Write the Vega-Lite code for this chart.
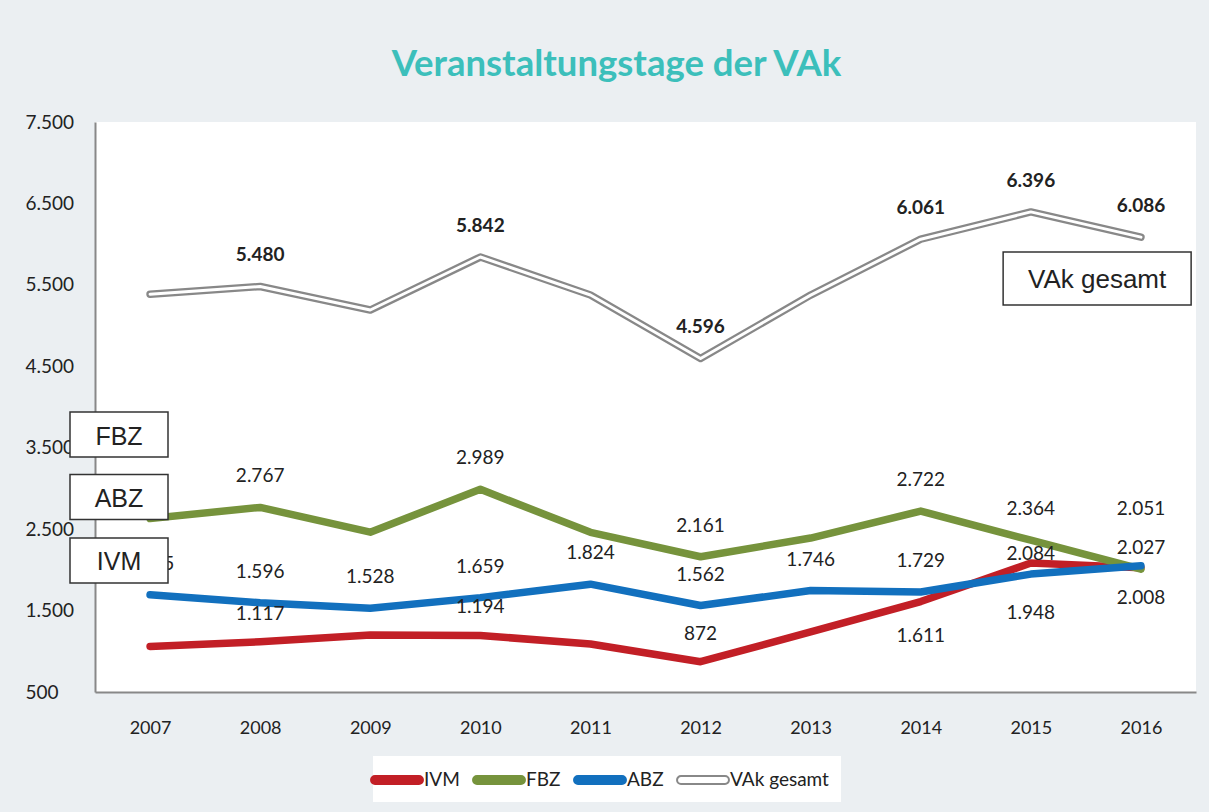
{
  "$schema": "https://vega.github.io/schema/vega-lite/v6.json",
  "width": 1101,
  "height": 570,
  "autosize": {"type": "none"},
  "padding": {"left": 95, "top": 122, "right": 13, "bottom": 120},
  "background": "#ebeff2",
  "title": {"text": "Veranstaltungstage der VAk", "font": "Lato", "fontSize": 36.5, "fontWeight": "bold", "color": "#3cbfbb", "anchor": "middle", "baseline": "alphabetic", "offset": 1, "dx": -29},
  "config": {
    "view": {"fill": "white", "stroke": null},
    "locale": {"number": {"decimal": ",", "thousands": ".", "grouping": [3], "currency": ["", " €"]}}
  },
  "datasets": {
    "days": [
      {"series": "IVM", "year": 2007, "value": 1060},
      {"series": "IVM", "year": 2008, "value": 1117},
      {"series": "IVM", "year": 2009, "value": 1200},
      {"series": "IVM", "year": 2010, "value": 1194},
      {"series": "IVM", "year": 2011, "value": 1090},
      {"series": "IVM", "year": 2012, "value": 872},
      {"series": "IVM", "year": 2013, "value": 1237},
      {"series": "IVM", "year": 2014, "value": 1611},
      {"series": "IVM", "year": 2015, "value": 2084},
      {"series": "IVM", "year": 2016, "value": 2027},
      {"series": "FBZ", "year": 2007, "value": 2630},
      {"series": "FBZ", "year": 2008, "value": 2767},
      {"series": "FBZ", "year": 2009, "value": 2463},
      {"series": "FBZ", "year": 2010, "value": 2989},
      {"series": "FBZ", "year": 2011, "value": 2461},
      {"series": "FBZ", "year": 2012, "value": 2161},
      {"series": "FBZ", "year": 2013, "value": 2391},
      {"series": "FBZ", "year": 2014, "value": 2722},
      {"series": "FBZ", "year": 2015, "value": 2364},
      {"series": "FBZ", "year": 2016, "value": 2008},
      {"series": "ABZ", "year": 2007, "value": 1695},
      {"series": "ABZ", "year": 2008, "value": 1596},
      {"series": "ABZ", "year": 2009, "value": 1528},
      {"series": "ABZ", "year": 2010, "value": 1659},
      {"series": "ABZ", "year": 2011, "value": 1824},
      {"series": "ABZ", "year": 2012, "value": 1562},
      {"series": "ABZ", "year": 2013, "value": 1746},
      {"series": "ABZ", "year": 2014, "value": 1729},
      {"series": "ABZ", "year": 2015, "value": 1948},
      {"series": "ABZ", "year": 2016, "value": 2051},
      {"series": "VAk gesamt", "year": 2007, "value": 5385},
      {"series": "VAk gesamt", "year": 2008, "value": 5480},
      {"series": "VAk gesamt", "year": 2009, "value": 5191},
      {"series": "VAk gesamt", "year": 2010, "value": 5842},
      {"series": "VAk gesamt", "year": 2011, "value": 5375},
      {"series": "VAk gesamt", "year": 2012, "value": 4596},
      {"series": "VAk gesamt", "year": 2013, "value": 5374},
      {"series": "VAk gesamt", "year": 2014, "value": 6061},
      {"series": "VAk gesamt", "year": 2015, "value": 6396},
      {"series": "VAk gesamt", "year": 2016, "value": 6086}
    ],
    "tags": [
      {"label": "FBZ", "year": 2006.718, "value": 3662},
      {"label": "ABZ", "year": 2006.718, "value": 2895},
      {"label": "IVM", "year": 2006.718, "value": 2115}
    ],
    "total": [
      {"label": "VAk gesamt", "year": 2015.602, "value": 5578}
    ]
  },
  "data": {"name": "days"},
  "encoding": {
    "x": {"field": "year", "type": "quantitative",
      "scale": {"domain": [2006.5, 2016.5], "nice": false, "zero": false},
      "axis": {"values": [2007, 2008, 2009, 2010, 2011, 2012, 2013, 2014, 2015, 2016], "format": "d", "title": null, "ticks": false, "tickSize": 0, "grid": false, "domainColor": "#888888", "domainWidth": 2, "labelFont": "Lato", "labelFontSize": 18, "labelColor": "#222222", "labelPadding": 27, "labelFlush": false, "labelOverlap": false}},
    "y": {"field": "value", "type": "quantitative",
      "scale": {"domain": [500, 7500], "nice": false, "zero": false},
      "axis": {"values": [500, 1500, 2500, 3500, 4500, 5500, 6500, 7500], "format": ",d", "title": null, "ticks": false, "tickSize": 0, "grid": false, "domainColor": "#888888", "domainWidth": 2, "labelAlign": "left", "labelBaseline": "middle", "labelPadding": 70, "labelFont": "Lato", "labelFontSize": 19, "labelColor": "#222222", "labelFlush": false, "labelOverlap": false}}
  },
  "layer": [
    {
      "mark": {"type": "line", "strokeWidth": 7.5, "strokeCap": "round", "strokeJoin": "round"},
      "encoding": {
        "color": {"field": "series", "type": "nominal",
          "scale": {"domain": ["IVM", "FBZ", "ABZ", "VAk gesamt"], "range": ["#c21f26", "#76933c", "#1270be", "#888888"]},
          "legend": {"orient": "none", "legendX": 278, "legendY": 634, "direction": "horizontal", "title": null, "fillColor": "white", "padding": 12,
            "symbolType": "M-2,-0.36L2,-0.36A0.36,0.36,0,0,1,2,0.36L-2,0.36A0.36,0.36,0,0,1,-2,-0.36Z",
            "symbolSize": 484, "symbolStrokeWidth": 2, "labelFont": "Lato", "labelFontSize": 19, "labelColor": "#222222", "labelOffset": 15, "columnPadding": 9,
            "encode": {"symbols": {"update": {
              "fill": {"signal": "datum.value === 'VAk gesamt' ? '#ffffff' : datum.value === 'IVM' ? '#c21f26' : datum.value === 'FBZ' ? '#76933c' : '#1270be'"},
              "stroke": {"signal": "datum.value === 'VAk gesamt' ? '#888888' : datum.value === 'IVM' ? '#c21f26' : datum.value === 'FBZ' ? '#76933c' : '#1270be'"},
              "strokeWidth": {"value": 2},
              "opacity": {"value": 1},
              "fillOpacity": {"value": 1}
            }}}
          }
        }
      }
    },
    {
      "transform": [{"filter": "datum.series === 'VAk gesamt'"}],
      "mark": {"type": "line", "color": "#ffffff", "strokeWidth": 3, "strokeCap": "round", "strokeJoin": "round"},
      "encoding": {}
    },
    {
      "transform": [{"filter": "(datum.series === 'FBZ' && datum.year !== 2007 && datum.year !== 2016 && (datum.year % 2 === 0 || datum.year === 2015)) || (datum.series === 'ABZ' && datum.year !== 2015 && datum.year !== 2016)"}],
      "mark": {"type": "text", "font": "Lato", "fontSize": 19, "color": "#222222", "baseline": "middle", "align": "center", "dy": -31},
      "encoding": {"text": {"field": "value", "type": "quantitative", "format": ",d"}}
    },
    {
      "transform": [{"filter": "datum.series === 'IVM' && (datum.year === 2008 || datum.year === 2010 || datum.year === 2012)"}],
      "mark": {"type": "text", "font": "Lato", "fontSize": 19, "color": "#222222", "baseline": "middle", "align": "center", "dy": -28},
      "encoding": {"text": {"field": "value", "type": "quantitative", "format": ",d"}}
    },
    {
      "transform": [{"filter": "datum.series === 'IVM' && datum.year === 2014"}],
      "mark": {"type": "text", "font": "Lato", "fontSize": 19, "color": "#222222", "baseline": "middle", "align": "center", "dy": 34},
      "encoding": {"text": {"field": "value", "type": "quantitative", "format": ",d"}}
    },
    {
      "transform": [{"filter": "datum.series === 'IVM' && datum.year === 2015"}],
      "mark": {"type": "text", "font": "Lato", "fontSize": 19, "color": "#222222", "baseline": "middle", "align": "center", "dy": -9},
      "encoding": {"text": {"field": "value", "type": "quantitative", "format": ",d"}}
    },
    {
      "transform": [{"filter": "datum.series === 'IVM' && datum.year === 2016"}],
      "mark": {"type": "text", "font": "Lato", "fontSize": 19, "color": "#222222", "baseline": "middle", "align": "center", "dy": -20},
      "encoding": {"text": {"field": "value", "type": "quantitative", "format": ",d"}}
    },
    {
      "transform": [{"filter": "datum.series === 'ABZ' && datum.year === 2015"}],
      "mark": {"type": "text", "font": "Lato", "fontSize": 19, "color": "#222222", "baseline": "middle", "align": "center", "dy": 39},
      "encoding": {"text": {"field": "value", "type": "quantitative", "format": ",d"}}
    },
    {
      "transform": [{"filter": "datum.series === 'ABZ' && datum.year === 2016"}],
      "mark": {"type": "text", "font": "Lato", "fontSize": 19, "color": "#222222", "baseline": "middle", "align": "center", "dy": -57},
      "encoding": {"text": {"field": "value", "type": "quantitative", "format": ",d"}}
    },
    {
      "transform": [{"filter": "datum.series === 'FBZ' && datum.year === 2016"}],
      "mark": {"type": "text", "font": "Lato", "fontSize": 19, "color": "#222222", "baseline": "middle", "align": "center", "dy": 29},
      "encoding": {"text": {"field": "value", "type": "quantitative", "format": ",d"}}
    },
    {
      "transform": [{"filter": "datum.series === 'VAk gesamt' && (datum.year % 2 === 0 || datum.year === 2015)"}],
      "mark": {"type": "text", "font": "Lato", "fontSize": 19, "fontWeight": "bold", "color": "#222222", "baseline": "middle", "align": "center", "dy": -31},
      "encoding": {"text": {"field": "value", "type": "quantitative", "format": ",d"}}
    },
    {
      "data": {"name": "tags"},
      "mark": {"type": "point", "shape": "M-1,-0.459H1V0.459H-1Z", "size": 9604, "filled": true, "fill": "#ffffff", "stroke": "#333333", "strokeWidth": 1.5, "opacity": 1},
      "encoding": {}
    },
    {
      "data": {"name": "tags"},
      "mark": {"type": "text", "font": "Liberation Sans", "fontSize": 25, "color": "#222222", "baseline": "middle", "align": "center", "dy": 2},
      "encoding": {"text": {"field": "label", "type": "nominal"}}
    },
    {
      "data": {"name": "total"},
      "mark": {"type": "point", "shape": "M-1,-0.282H1V0.282H-1Z", "size": 35344, "filled": true, "fill": "#ffffff", "stroke": "#333333", "strokeWidth": 1.5, "opacity": 1},
      "encoding": {}
    },
    {
      "data": {"name": "total"},
      "mark": {"type": "text", "font": "Liberation Sans", "fontSize": 26, "color": "#222222", "baseline": "middle", "align": "center", "dy": 1},
      "encoding": {"text": {"field": "label", "type": "nominal"}}
    }
  ]
}
